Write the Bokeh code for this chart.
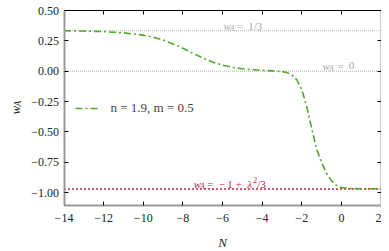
import math
from bokeh.plotting import figure
from bokeh.models import (LinearAxis, FixedTicker, Label, Legend, LegendItem,
                          ColumnDataSource, Range1d)
from bokeh.embed import file_html
from bokeh.resources import INLINE

# ---- data ----
N_vals = [-14, -13, -12, -11, -10, -9.5, -9, -8.5, -8, -7.5, -7, -6.5, -6, -5.5, -5,
          -4.5, -4, -3.5, -3, -2.75, -2.5, -2.25, -2, -1.75, -1.5, -1.25, -1, -0.75,
          -0.5, -0.25, 0, 0.25, 0.5, 1, 1.5, 2]
wA_vals = [0.333, 0.331, 0.326, 0.316, 0.297, 0.28, 0.257, 0.225, 0.19, 0.148, 0.11,
           0.075, 0.05, 0.032, 0.02, 0.012, 0.007, 0.003, -0.002, -0.01, -0.03, -0.07,
           -0.15, -0.29, -0.47, -0.64, -0.75, -0.84, -0.9, -0.94, -0.957, -0.963,
           -0.966, -0.967, -0.967, -0.967]
radiation_w = 1 / 3
matter_w = 0.0
scaling_w = -0.97
legend_label = "n = 1.9, m = 0.5"
x_ticks = [-14, -12, -10, -8, -6, -4, -2, 0, 2]
y_ticks = [0.5, 0.25, 0.0, -0.25, -0.5, -0.75, -1.0]
y_tick_labels = ["0.50", "0.25", "0.00", "\u22120.25", "\u22120.50", "\u22120.75", "\u22121.00"]
x_lim = (-14, 2)
y_lim = (-1.105, 0.5)

FONT = "Liberation Serif"
GREEN = "#4ea82c"
RED = "#c2283c"
GRAY = "#b4b4b4"
SPINE = "#9a9a9a"

# the frame covers the whole canvas; axes are pinned at the data limits
W, H = 381, 251
LEFT_PX, TOP_PX = 63.5, 10.0
px_x = (x_lim[1] - x_lim[0]) / 317.0
px_y = (y_lim[1] - y_lim[0]) / 195.0
x0 = x_lim[0] - LEFT_PX * px_x
y1 = y_lim[1] + TOP_PX * px_y
p = figure(frame_width=W, frame_height=H, output_backend="svg", toolbar_location=None,
           x_range=Range1d(x0, x0 + W * px_x), y_range=Range1d(y1 - H * px_y, y1),
           min_border=0, x_axis_location=None, y_axis_location=None)
p.outline_line_color = None
p.xgrid.visible = False
p.ygrid.visible = False
p.background_fill_color = "white"
p.border_fill_color = "white"


def style_axis(ax, ticks, fixed, bounds, overrides=None, show=True, color=SPINE, width=2):
    ax.fixed_location = fixed
    ax.bounds = bounds
    ax.ticker = FixedTicker(ticks=ticks)
    ax.axis_line_color = color
    ax.axis_line_width = width
    ax.major_tick_in = 4
    ax.major_tick_out = 0
    ax.major_tick_line_color = "black"
    ax.major_tick_line_width = 1
    ax.minor_tick_line_color = None
    ax.major_label_text_font = FONT
    ax.major_label_text_font_size = "12px"
    ax.major_label_text_color = "#222222"
    ax.major_label_standoff = 8
    if show:
        if overrides:
            ax.major_label_overrides = overrides
    else:
        ax.major_label_overrides = {t: "" for t in ticks}


xlab = {t: (("\u2212" + str(abs(t))) if t < 0 else str(t)) for t in x_ticks}
bottom = LinearAxis()
style_axis(bottom, x_ticks, y_lim[0], x_lim, xlab)
p.add_layout(bottom, "below")

left = LinearAxis()
style_axis(left, y_ticks, x_lim[0], y_lim, {t: l for t, l in zip(y_ticks, y_tick_labels)})
left.major_label_standoff = 5
p.add_layout(left, "left")

top = LinearAxis()
style_axis(top, x_ticks, y_lim[1], x_lim, show=False, color="black", width=1)
p.add_layout(top, "above")

right = LinearAxis()
style_axis(right, y_ticks, x_lim[1], y_lim, show=False)
p.add_layout(right, "right")

# reference lines across the N range
for yv, col, w, dash in [(radiation_w, GRAY, 1, "1 1"), (matter_w, GRAY, 1, "1 1"),
                         (scaling_w, RED, 1.5, "2 2")]:
    p.line(list(x_lim), [yv, yv], line_color=col, line_width=w, line_dash=dash)

src = ColumnDataSource(dict(N=N_vals, w=wA_vals))
r = p.line("N", "w", source=src, line_color=GREEN, line_width=1.6, line_dash="7 3 2 3")

legend = Legend(items=[LegendItem(label=legend_label, renderers=[r])],
                location=(74.5, 133), border_line_color=None, background_fill_alpha=0,
                padding=0, margin=0, glyph_width=25, glyph_height=20,
                label_standoff=11, label_text_font=FONT, label_text_font_size="13px")
p.add_layout(legend)


def math_label(x, y, pieces, color, size=11, angle=0.0):
    # pieces: (text, dx_px, dy_px, italic, scale)
    for txt, dx, dy, it, sc in pieces:
        p.add_layout(Label(x=x, y=y, x_offset=dx, y_offset=dy, text=txt, angle=angle,
                           text_font=FONT, text_font_size=f"{size * sc:.1f}px",
                           text_font_style="italic" if it else "normal",
                           text_color=color, text_baseline="alphabetic"))


math_label(-5.95, 0.375, [("w", 0, 0, True, 1), ("A", 6.5, -2.5, True, 0.72),
                          ("=", 13.4, 0, False, 1), ("1/3", 24.7, 0, False, 1)], "#a8a8a8")
math_label(-0.95, 0.047, [("w", 0, 0, True, 1), ("A", 6.5, -2.5, True, 0.72),
                          ("=", 15, 0, False, 1), ("0", 26.3, 0, False, 1)], "#a8a8a8")
math_label(-7.45, -0.93, [("w", 0, 0, True, 1), ("A", 6.2, -2.5, True, 0.72),
                          ("=", 13.4, 0, False, 1), ("\u2212", 25, 0, False, 1),
                          ("1", 33.4, 0, False, 1), ("+", 41.7, 0, False, 1),
                          ("\u03bb", 53.4, 0, True, 1), ("2", 59.4, 4, False, 0.72),
                          ("/3", 63.4, 0, False, 1)], RED)

# y-axis title w_A, rotated, left of the tick labels
math_label(x0 + 14.5 * px_x, y1 - 114 * px_y,
           [("w", 0, 0, True, 1), ("A", 2.5, 8, True, 0.72)], "#222222", size=13,
           angle=math.pi / 2)

# x-axis title N
p.add_layout(Label(x=0.5 * (x_lim[0] + x_lim[1]), y=y1 - 241.5 * px_y, text="N",
                   text_align="center", text_baseline="alphabetic", text_font=FONT,
                   text_font_style="italic", text_font_size="13px", text_color="#222222"))

open("out.html", "w").write(file_html(p, INLINE))
